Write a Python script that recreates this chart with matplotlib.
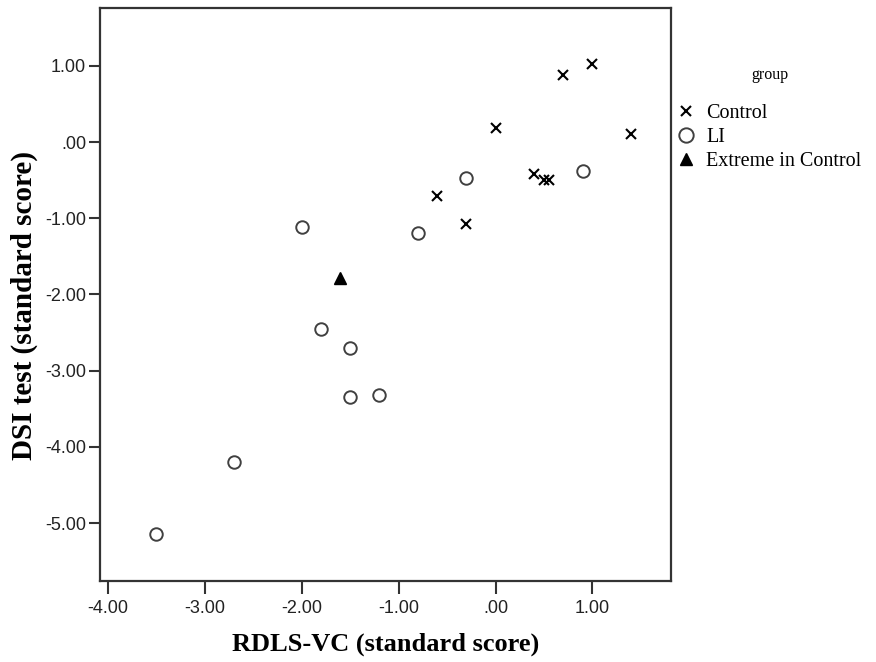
import matplotlib
matplotlib.use("Agg")
import matplotlib.pyplot as plt

# --- data (standard scores) ---
control_x = [1.00, 0.70, 0.00, 1.40, 0.40, 0.50, 0.55, -0.60, -0.30]
control_y = [1.02, 0.88, 0.19, 0.11, -0.42, -0.50, -0.50, -0.71, -1.08]

li_x = [-0.30, 0.90, -0.80, -2.00, -1.80, -1.50, -1.50, -1.20, -2.70, -3.50]
li_y = [-0.47, -0.38, -1.19, -1.12, -2.45, -2.70, -3.34, -3.32, -4.20, -5.14]

extreme_x = [-1.60]
extreme_y = [-1.79]

xticks = [-4, -3, -2, -1, 0, 1]
yticks = [1, 0, -1, -2, -3, -4, -5]


def spss_fmt(v):
    # SPSS drops the leading zero: 0 -> ".00"
    s = f"{v:.2f}"
    return ".00" if abs(v) < 1e-9 else s


W, H = 876, 662
fig = plt.figure(figsize=(W / 100, H / 100), dpi=100)
ax = fig.add_axes([100 / W, 1 - 581 / H, 571 / W, 573 / H])

edge = "#404040"
ax.plot(control_x, control_y, "x", color="black", ms=6.5, mew=1.5,
        label="Control", linestyle="none")
ax.plot(li_x, li_y, "o", mfc="white", mec=edge, ms=9, mew=1.4,
        label="LI", linestyle="none")
ax.plot(extreme_x, extreme_y, "^", color="black", ms=8,
        label="Extreme in Control", linestyle="none")

ax.set_xlim(-4.08, 1.81)
ax.set_ylim(-5.76, 1.76)
ax.set_xticks(xticks)
ax.set_yticks(yticks)
ax.set_xticklabels([spss_fmt(v) for v in xticks])
ax.set_yticklabels([spss_fmt(v) for v in yticks])

for s in ax.spines.values():
    s.set_color("#333333")
    s.set_linewidth(1.6)
ax.tick_params(direction="out", width=1.5, color="#333333",
               labelsize=13, labelcolor="#222222")
ax.tick_params(axis="x", length=9.5, pad=4)
ax.tick_params(axis="y", length=8, pad=2)
for lab in ax.get_xticklabels() + ax.get_yticklabels():
    lab.set_family("Liberation Sans")

ax.set_xlabel("RDLS-VC (standard score)", family="Liberation Serif",
              fontsize=19, fontweight="bold")
ax.set_ylabel("DSI test (standard score)", family="Liberation Serif",
              fontsize=21, fontweight="bold")
ax.xaxis.set_label_coords(0.5, -0.09)
ax.yaxis.set_label_coords(-0.108, 0.48)

leg = ax.legend(loc="upper left", bbox_to_anchor=(670 / W, 1 - 96 / H),
                bbox_transform=fig.transFigure, frameon=False,
                prop={"family": "Liberation Serif", "size": 14.5},
                handlelength=0.8, handletextpad=0.6, labelspacing=0.24,
                borderaxespad=0, markerscale=1.15)
fig.text(770 / W, 1 - 75 / H, "group", family="Liberation Serif",
         fontsize=11.5, ha="center", va="center")

fig.savefig("out.png", dpi=100)
